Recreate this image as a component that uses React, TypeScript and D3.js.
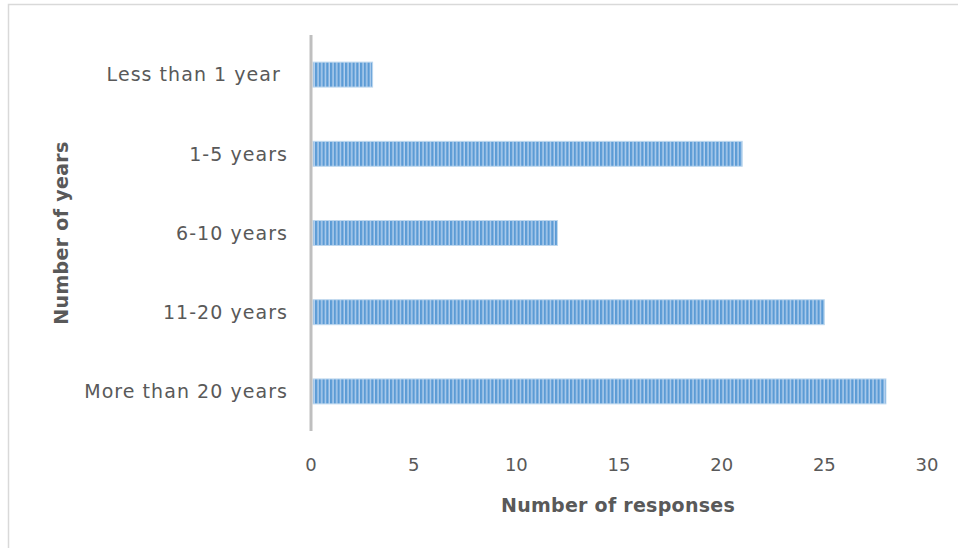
import React from "react";
import * as d3 from "d3";

// Years of experience categories, top to bottom
const categories = [
  "Less than 1 year ",
  "1-5 years",
  "6-10 years",
  "11-20 years",
  "More than 20 years",
];
// Number of responses per category
const responses = [3, 21, 12, 25, 28];
// X axis ticks
const xTicks = [0, 5, 10, 15, 20, 25, 30];

const W = 958;
const H = 548;
const FONT = "'DejaVu Sans', 'Noto Sans', sans-serif";
const TEXT = "#595959";

export default function App() {
  const x = d3.scaleLinear().domain([0, 30]).range([311, 927]);
  const y = d3
    .scaleBand<string>()
    .domain(categories)
    .range([35, 431])
    .paddingInner(0.685)
    .paddingOuter(0.3425);

  return (
    <svg
      width={W}
      height={H}
      style={{ position: "absolute", left: 0, top: 0, background: "#fff" }}
    >
      <defs>
        <pattern id="vstripe" width={3.75} height={10} patternUnits="userSpaceOnUse">
          <rect x={0} y={0} width={3.75} height={10} fill="#b4d0ee" />
          <rect x={0} y={0} width={2.3} height={10} fill="#5b9bd5" />
        </pattern>
      </defs>

      {/* chart frame */}
      <rect x={8.5} y={4.5} width={W + 10} height={H + 10} fill="none" stroke="#d9d9d9" strokeWidth={1.5} />

      {/* bars */}
      {categories.map((c, i) => (
        <rect
          key={c}
          x={x(0) + 2}
          y={y(c)!}
          width={x(responses[i]) - x(0) - 2}
          height={y.bandwidth()}
          fill="url(#vstripe)"
          stroke="#bdd7ee"
          strokeWidth={1}
        />
      ))}

      {/* vertical axis line */}
      <line x1={x(0)} x2={x(0)} y1={35} y2={431} stroke="#bfbfbf" strokeWidth={3} />

      {/* category labels */}
      {categories.map((c) => (
        <text
          key={c}
          x={288}
          y={y(c)! + y.bandwidth() / 2}
          dy="0.36em"
          textAnchor="end"
          fontFamily={FONT}
          fontSize={19}
          letterSpacing={1.05}
          fill={TEXT}
          style={{ whiteSpace: "pre" }}
        >
          {c}
        </text>
      ))}

      {/* x tick labels */}
      {xTicks.map((t) => (
        <text
          key={t}
          x={x(t)}
          y={471}
          textAnchor="middle"
          fontFamily={FONT}
          fontSize={18}
          fill={TEXT}
        >
          {t}
        </text>
      ))}

      {/* axis titles */}
      <text
        x={618}
        y={512}
        textAnchor="middle"
        fontFamily={FONT}
        fontSize={19}
        fontWeight="bold"
        letterSpacing={0.27}
        fill={TEXT}
      >
        Number of responses
      </text>
      <text
        transform="translate(68,233) rotate(-90)"
        textAnchor="middle"
        fontFamily={FONT}
        fontSize={19}
        fontWeight="bold"
        letterSpacing={0.33}
        fill={TEXT}
      >
        Number of years
      </text>
    </svg>
  );
}
